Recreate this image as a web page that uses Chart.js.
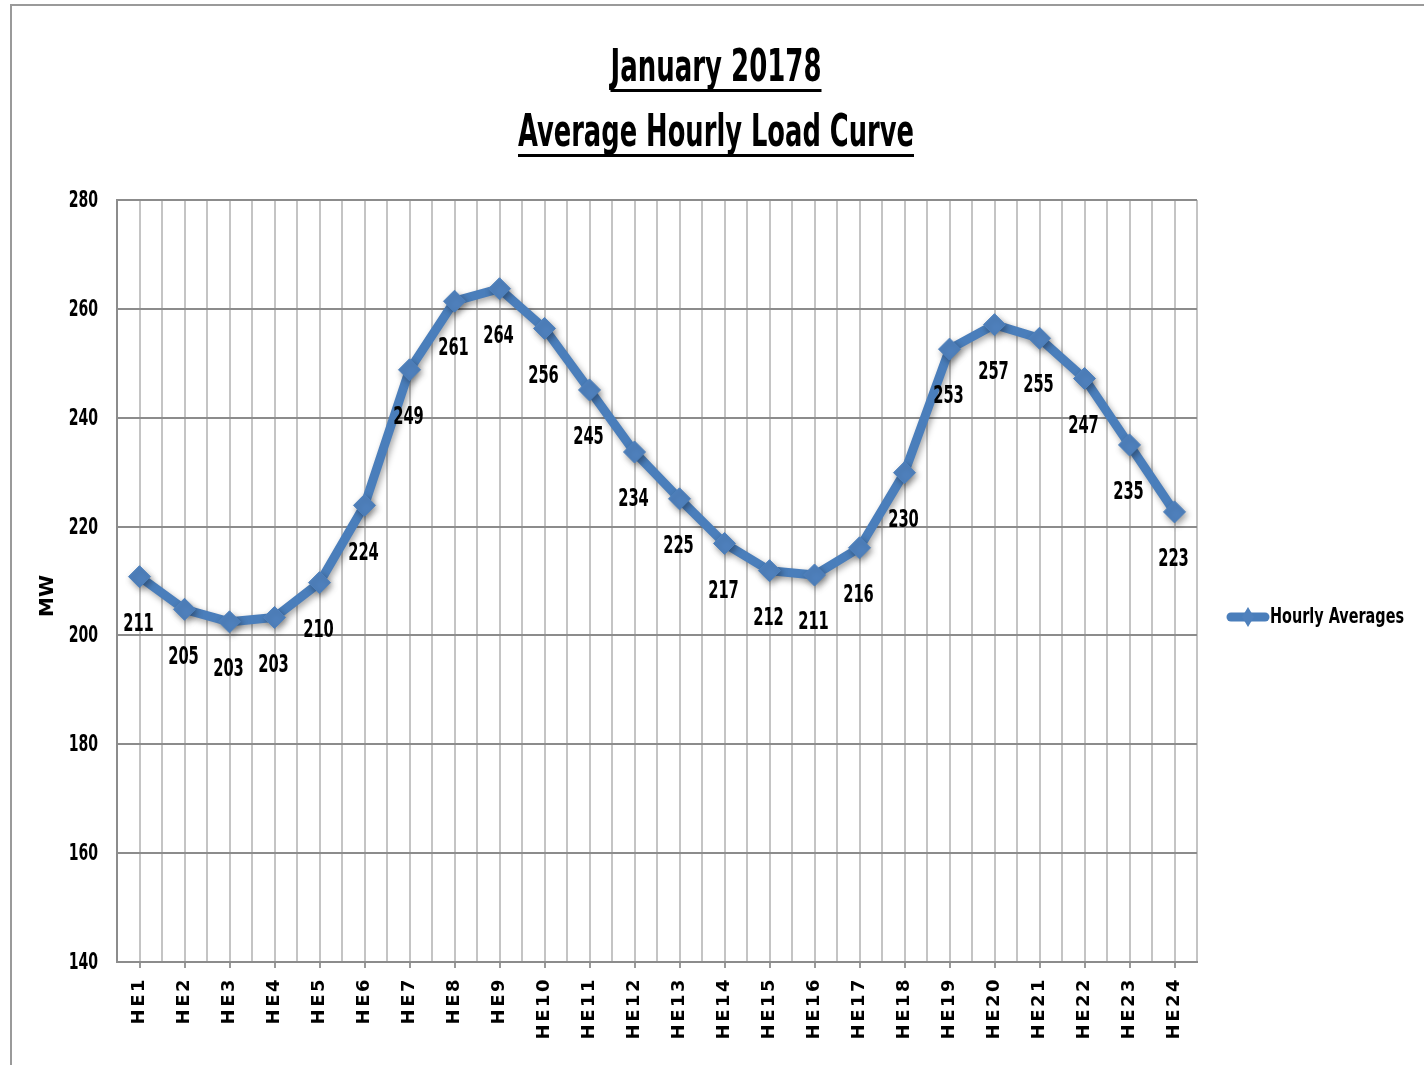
<!DOCTYPE html>
<html>
<head>
<meta charset="utf-8">
<title>January 20178 Average Hourly Load Curve</title>
<script src="https://cdn.jsdelivr.net/npm/chart.js@4.4.1/dist/chart.umd.min.js"></script>
<style>
  html, body { margin: 0; padding: 0; background: #fff; }
  #wrap { position: absolute; left: 0; top: 0; width: 1424px; height: 1065px; }
</style>
</head>
<body>
<div id="wrap"><canvas id="chart1"></canvas></div>
<script>
// hour ending labels
var hours = ['HE1','HE2','HE3','HE4','HE5','HE6','HE7','HE8','HE9','HE10','HE11','HE12',
  'HE13','HE14','HE15','HE16','HE17','HE18','HE19','HE20','HE21','HE22','HE23','HE24'];
// average load in MW
var hourlyAvg = [210.8, 204.8, 202.5, 203.3, 209.7, 223.9, 248.8, 261.4, 263.7, 256.4, 245.1, 233.7,
  225.1, 216.9, 211.9, 211.1, 216.1, 229.9, 252.6, 257.1, 254.6, 247.2, 235.0, 222.7];
var titleLines = ['January 20178', 'Average Hourly Load Curve'];
var seriesName = 'Hourly Averages';
var yTitle = 'MW';
var yMin = 140, yMax = 280, yStep = 20;

var narrow = "'Liberation Sans Narrow', 'DejaVu Sans Condensed', sans-serif";
var blue = '#4A7EBB';
var squeeze = 0.68; // condensed look of the numbers

function squeezedText(c, txt, x, y, sx) {
  c.save();
  c.translate(x, y);
  c.scale(sx, 1);
  c.fillText(txt, 0, 0);
  c.restore();
}

// frame, title (underlined), y tick numbers, value labels, legend
var decor = {
  id: 'decor',
  beforeDraw: function(chart) {
    var c = chart.ctx;
    c.save();
    c.fillStyle = '#fff';
    c.fillRect(0, 0, chart.width, chart.height);
    c.strokeStyle = '#9a9a9a';
    c.lineWidth = 2;
    c.beginPath();
    c.moveTo(11, chart.height); c.lineTo(11, 5); c.lineTo(chart.width, 5);
    c.stroke();
    c.restore();
    // wide spacing on the hour labels
    c.letterSpacing = '2.5px';
  },
  beforeDatasetsDraw: function(chart) {
    chart.ctx.letterSpacing = '0px';
  },
  afterDraw: function(chart) {
    var c = chart.ctx;
    var cx = 716;
    c.save();
    c.fillStyle = '#000';
    c.textAlign = 'center';
    c.textBaseline = 'alphabetic';
    c.font = 'bold 44px ' + narrow;
    var base = [81, 146];
    var target = [211, 396];
    titleLines.forEach(function(t, i) {
      var w = c.measureText(t).width;
      squeezedText(c, t, cx, base[i], target[i] / w);
      c.fillRect(cx - target[i] / 2, base[i] + 8, target[i], 3);
    });

    // y axis title
    c.save();
    c.translate(48, 596);
    c.rotate(-Math.PI / 2);
    c.textBaseline = 'middle';
    c.font = 'bold 20px DejaVu Sans';
    c.fillText(yTitle, 0, 0);
    c.restore();

    // y tick numbers
    var ys = chart.scales.y;
    c.textAlign = 'right';
    c.textBaseline = 'middle';
    c.font = 'bold 23px ' + narrow;
    ys.ticks.forEach(function(t) {
      squeezedText(c, String(t.value), 98, ys.getPixelForValue(t.value) + 1, squeeze);
    });

    // legend on the right
    var a = chart.chartArea;
    var ly = a.top + 417;
    var lx = a.right + 30;
    c.strokeStyle = blue;
    c.lineWidth = 9;
    c.lineCap = 'round';
    c.beginPath();
    c.moveTo(lx + 4, ly); c.lineTo(lx + 38, ly);
    c.stroke();
    c.fillStyle = '#4F81BD';
    c.beginPath();
    c.moveTo(lx + 21, ly - 10); c.lineTo(lx + 27, ly); c.lineTo(lx + 21, ly + 10); c.lineTo(lx + 15, ly);
    c.closePath(); c.fill();
    c.fillStyle = '#000';
    c.textAlign = 'left';
    c.font = 'bold 22px ' + narrow;
    var lw = c.measureText(seriesName).width;
    squeezedText(c, seriesName, lx + 43, ly, 134 / lw);
    c.restore();
  },
  afterDatasetsDraw: function(chart) {
    var c = chart.ctx;
    var meta = chart.getDatasetMeta(0);
    c.save();
    c.fillStyle = '#000';
    c.textAlign = 'center';
    c.textBaseline = 'middle';
    c.font = 'bold 24px ' + narrow;
    meta.data.forEach(function(pt, i) {
      squeezedText(c, String(Math.round(hourlyAvg[i])), pt.x - 1, pt.y + 48, squeeze);
    });
    c.restore();
  },
  beforeDatasetDraw: function(chart) {
    var c = chart.ctx;
    c.save();
    c.shadowColor = 'rgba(0,0,0,0.35)';
    c.shadowBlur = 6;
    c.shadowOffsetX = 2;
    c.shadowOffsetY = 3;
  },
  afterDatasetDraw: function(chart) {
    chart.ctx.restore();
  }
};

var chart1 = new Chart('chart1', {
  type: 'line',
  data: {
    labels: hours,
    datasets: [{
      label: seriesName,
      data: hourlyAvg,
      borderColor: blue,
      borderWidth: 9,
      pointStyle: 'rectRot',
      pointRadius: 11,
      pointBackgroundColor: '#4F81BD',
      pointBorderColor: '#4F81BD',
      pointBorderWidth: 1,
      tension: 0,
      fill: false
    }]
  },
  options: {
    responsive: true,
    maintainAspectRatio: false,
    animation: false,
    events: [],
    layout: { padding: { left: 32, right: 227, top: 200, bottom: 0 } },
    plugins: {
      legend: { display: false },
      title: { display: false },
      tooltip: { enabled: false }
    },
    scales: {
      x: {
        type: 'category',
        offset: true,
        position: 'bottom',
        grid: { offset: false, color: '#c4c4c4', lineWidth: 2, tickLength: 6, tickColor: '#9a9a9a' },
        border: { color: '#8c8c8c', width: 2 },
        ticks: {
          autoSkip: false, minRotation: 90, maxRotation: 90, padding: 9,
          color: '#000', font: { family: 'DejaVu Sans', weight: 'bold', size: 18 }
        },
        afterFit: function(s) { s.height = 103; }
      },
      x2: {
        type: 'category',
        labels: hours,
        offset: true,
        position: 'bottom',
        grid: { offset: true, color: '#c4c4c4', lineWidth: 2, drawTicks: false },
        border: { display: false },
        ticks: { display: false },
        afterFit: function(s) { s.height = 0; }
      },
      y: {
        min: yMin,
        max: yMax,
        ticks: {
          stepSize: yStep, padding: 19, color: 'rgba(0,0,0,0)',
          font: { family: narrow, weight: 'bold', size: 22 }
        },
        grid: { color: '#8c8c8c', lineWidth: 2, drawTicks: false },
        border: { color: '#8c8c8c', width: 2 },
        title: { display: false },
        afterFit: function(s) { s.width = 85; }
      }
    }
  },
  plugins: [decor]
});
</script>
</body>
</html>
